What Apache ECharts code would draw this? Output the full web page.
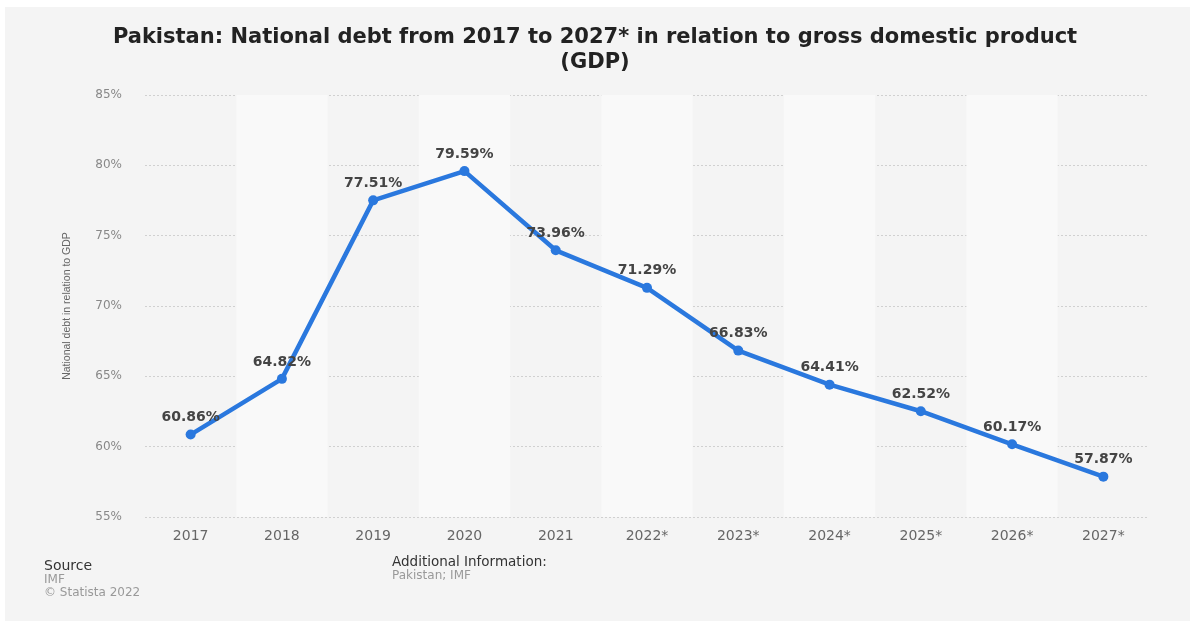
<!DOCTYPE html>
<html>
<head>
<meta charset="utf-8">
<script src="https://cdn.jsdelivr.net/npm/echarts@6/dist/echarts.min.js"></script>
<style>
  html, body { margin: 0; padding: 0; background: #fff; }
  #chart { width: 1190px; height: 628px; }
</style>
</head>
<body>
<div id="chart"></div>
<script>
// years (forecasts marked with *)
const years = ['2017', '2018', '2019', '2020', '2021', '2022*', '2023*', '2024*', '2025*', '2026*', '2027*'];
// national debt, % of GDP
const debtShare = [60.86, 64.82, 77.51, 79.59, 73.96, 71.29, 66.83, 64.41, 62.52, 60.17, 57.87];
const yTicks = [55, 60, 65, 70, 75, 80, 85];

const chart = echarts.init(document.getElementById('chart'));

const option = {
  backgroundColor: '#fff',
  animation: false,
  textStyle: { fontFamily: 'DejaVu Sans' },
  title: {
    text: 'Pakistan: National debt from 2017 to 2027* in relation to gross domestic product\n(GDP)',
    left: 'center',
    top: 20,
    textStyle: {
      fontFamily: 'DejaVu Sans',
      fontSize: 21,
      fontWeight: 'bold',
      color: '#222',
      lineHeight: 25,
    },
  },
  graphic: [
    {
      type: 'rect',
      z: -10,
      silent: true,
      shape: { x: 5, y: 7, width: 1185, height: 614 },
      style: { fill: '#f4f4f4' },
    },
    {
      type: 'text',
      left: 44,
      top: 559,
      style: { text: 'Source', fill: '#333', font: '14px "DejaVu Sans"' },
    },
    {
      type: 'text',
      left: 44,
      top: 574,
      style: { text: 'IMF', fill: '#999', font: '12px "DejaVu Sans"' },
    },
    {
      type: 'text',
      left: 44,
      top: 587,
      style: { text: '\u00a9 Statista 2022', fill: '#999', font: '12px "DejaVu Sans"' },
    },
    {
      type: 'text',
      left: 392,
      top: 555,
      style: { text: 'Additional Information:', fill: '#333', font: '13.5px "DejaVu Sans"' },
    },
    {
      type: 'text',
      left: 392,
      top: 570,
      style: { text: 'Pakistan; IMF', fill: '#999', font: '12px "DejaVu Sans"' },
    },
  ],
  grid: {
    left: 145,
    right: 41,
    top: 95,
    bottom: 111,
  },
  xAxis: {
    type: 'category',
    data: years,
    boundaryGap: true,
    axisLine: { show: false },
    axisTick: { show: false },
    axisLabel: { color: '#666', fontSize: 14, margin: 12 },
    splitArea: {
      show: true,
      areaStyle: { color: ['rgba(0,0,0,0)', '#f9f9f9'] },
    },
  },
  yAxis: {
    type: 'value',
    min: yTicks[0],
    max: yTicks[yTicks.length - 1],
    interval: 5,
    name: 'National debt in relation to GDP',
    nameLocation: 'middle',
    nameGap: 72,
    nameTextStyle: { fontFamily: 'Liberation Sans', fontSize: 10.5, color: '#666' },
    axisLine: { show: false },
    axisTick: { show: false },
    axisLabel: { color: '#888', fontSize: 12, margin: 23, formatter: '{value}%' },
    splitLine: { lineStyle: { color: '#d0d0d0', type: [2, 2], width: 1 } },
  },
  series: [
    {
      type: 'line',
      data: debtShare,
      symbol: 'circle',
      symbolSize: 10,
      itemStyle: { color: '#2a78de' },
      lineStyle: { color: '#2a78de', width: 4.5 },
      label: {
        show: true,
        position: 'top',
        distance: 5,
        color: '#444',
        fontSize: 14,
        fontWeight: 'bold',
        formatter: (p) => p.value.toFixed(2) + '%',
      },
    },
  ],
};

chart.setOption(option);
</script>
</body>
</html>
